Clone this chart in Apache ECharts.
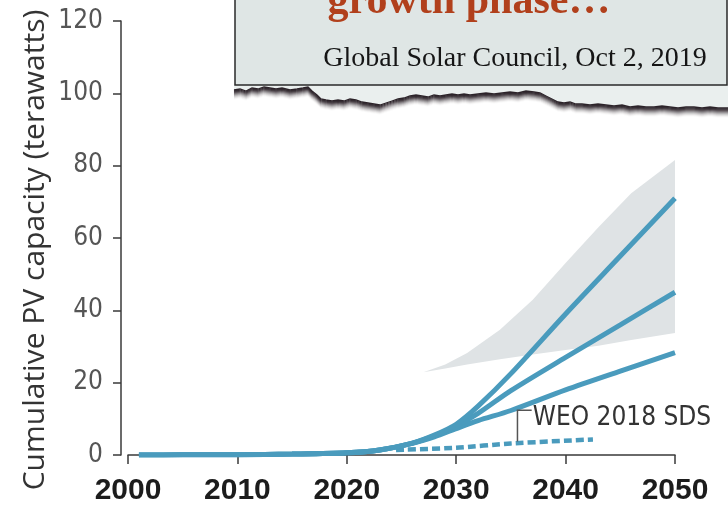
<!DOCTYPE html>
<html><head><meta charset="utf-8">
<script src="https://cdn.jsdelivr.net/npm/echarts@6.0.0/dist/echarts.min.js"></script>
<style>html,body{margin:0;padding:0;background:#fff}#c{width:728px;height:508px}</style>
</head><body><div id="c"></div>
<script>
// ---- data ----
const solidYears   = [2001, 2005, 2010, 2015, 2020, 2023, 2026, 2028, 2030, 2032, 2035, 2040, 2045, 2050];
const highScenario = [0, 0.05, 0.1, 0.25, 0.6, 1.4, 3.3, 5.5, 8.5, 13.5, 22.5, 39, 55, 71];
const midScenario  = [0, 0.05, 0.1, 0.25, 0.6, 1.4, 3.3, 5.3, 8.0, 11.5, 17.8, 27, 36, 45];
const lowScenario  = [0, 0.05, 0.1, 0.25, 0.6, 1.4, 3.2, 5.0, 7.3, 9.5, 12.3, 18, 23.2, 28.3];
const weoYears  = [2024.5, 2030, 2035, 2042.5];
const weoValues = [1.4, 2.0, 3.2, 4.3];
const bandYears = [2027, 2029, 2031, 2034, 2037, 2040, 2043, 2046, 2050];
const bandUpper = [22.9, 25, 28.2, 34.6, 42.9, 53.1, 63, 72.4, 81.6];
const bandLower = [22.9, 23.9, 25, 26.5, 27.8, 29, 30.2, 31.8, 33.7];
const xTicks = [2000, 2010, 2020, 2030, 2040, 2050];
const yTicks = [0, 20, 40, 60, 80, 100, 120];
const yTitle = 'Cumulative PV capacity (terawatts)';
const weoLabel = 'WEO 2018 SDS';
const headline = 'growth phase…';
const sourceText = 'Global Solar Council, Oct 2, 2019';

const zip = (xs, ys) => xs.map((x, i) => [x, ys[i]]);
const lineColor = '#4a9bbd';
const axisColor = '#3a3a3a';

const tornEdge = [[234,90],[240,89],[246,91],[252,88],[258,89],[264,87],[270,88],[276,89],[282,88],[290,90],[297,89],[303,88],[308,87],[312,91],[317,95],[321,99],[326,100],[332,101],[338,100],[344,101],[350,99],[356,100],[362,102],[368,103],[374,104],[380,105],[386,103],[392,101],[398,99],[404,98],[410,96],[416,95],[422,96],[428,97],[434,95],[440,96],[446,95],[452,94],[458,95],[464,94],[470,95],[478,94],[486,93],[494,94],[502,93],[510,92],[518,93],[526,91],[534,92],[540,93],[546,96],[552,99],[558,102],[564,103],[570,102],[576,104],[582,104],[590,105],[598,104],[606,105],[614,106],[622,105],[630,107],[638,106],[646,107],[654,107],[662,106],[670,107],[678,108],[686,107],[694,107],[702,108],[710,107],[718,108],[728,108]];

const chart = echarts.init(document.getElementById('c'), null, {renderer: 'canvas'});

const shadowAlphas = [1, 0.92, 0.8, 0.62, 0.45, 0.32, 0.2, 0.12, 0.06, 0.02];
const annotation = [];
annotation.push({type: 'polygon', z: 100, shape: {points: [[234,84]].concat(tornEdge).concat([[728,84]])}, style: {fill: '#eaefee'}});
shadowAlphas.forEach((a, k) => {
  annotation.push({type: 'polyline', z: 101, shape: {points: tornEdge.map(p => [p[0], p[1] + k])},
    style: {stroke: 'rgba(45,36,42,' + a + ')', lineWidth: 1.3, fill: null}});
});
annotation.push({type: 'rect', z: 102, shape: {x: 235, y: -10, width: 492, height: 95},
  style: {fill: '#dfe6e5', stroke: '#2a2a2a', lineWidth: 1.5}});
annotation.push({type: 'text', z: 103, x: 469, y: 2, style: {text: headline, fill: '#b1401c',
  font: 'bold 42px "Liberation Serif", serif', align: 'center', verticalAlign: 'middle'}});
annotation.push({type: 'text', z: 103, x: 515, y: 59, style: {text: sourceText, fill: '#151515',
  font: '28px "Liberation Serif", serif', align: 'center', verticalAlign: 'middle'}});

const option = {
  animation: false,
  backgroundColor: '#fff',
  grid: {left: 128, right: 53, top: 21, bottom: 53, containLabel: false},
  xAxis: {
    type: 'value', min: xTicks[0], max: xTicks[xTicks.length - 1], interval: 10,
    offset: 8,
    axisLine: {show: true, lineStyle: {color: axisColor, width: 1.5}},
    axisTick: {show: true, inside: false, length: 9, lineStyle: {color: axisColor, width: 1.5}},
    splitLine: {show: false},
    axisLabel: {formatter: v => String(v), margin: 13, color: '#1c1c1c',
      fontFamily: '"Liberation Sans", Arial, sans-serif', fontWeight: 'bold', fontSize: 30}
  },
  yAxis: {
    type: 'value', min: yTicks[0], max: yTicks[yTicks.length - 1], interval: 20,
    offset: 7,
    name: yTitle, nameLocation: 'middle', nameRotate: 90, nameGap: 71, nameMoveOverlap: false,
    nameTextStyle: {fontFamily: '"Open Sans", "Liberation Sans", sans-serif', fontSize: 30, color: '#333',
      padding: [0, 24, 0, 0]},
    axisLine: {show: true, lineStyle: {color: axisColor, width: 1.5}},
    axisTick: {show: true, inside: false, length: 8, lineStyle: {color: axisColor, width: 1.5}},
    splitLine: {show: false},
    axisLabel: {margin: 18, color: '#555',
      fontFamily: '"Liberation Sans Narrow", "DejaVu Sans Condensed", sans-serif', fontSize: 26}
  },
  series: [
    {name: 'range', type: 'custom', silent: true, z: 1, clip: false,
      data: [[bandYears[0], bandUpper[0]]],
      renderItem: (params, api) => {
        const top = bandYears.map((x, i) => api.coord([x, bandUpper[i]]));
        const bottom = bandYears.map((x, i) => api.coord([x, bandLower[i]])).reverse();
        return {type: 'polygon', shape: {points: top.concat(bottom)}, style: {fill: '#dfe3e5'}};
      }},
    {name: 'WEO 2018 SDS', type: 'line', smooth: 0.2, symbol: 'none', data: zip(weoYears, weoValues),
      lineStyle: {color: lineColor, width: 4.5, type: [8, 4]}, z: 3},
    {name: 'low', type: 'line', smooth: 0.3, symbol: 'none', data: zip(solidYears, lowScenario),
      lineStyle: {color: lineColor, width: 5}, z: 4},
    {name: 'mid', type: 'line', smooth: 0.3, symbol: 'none', data: zip(solidYears, midScenario),
      lineStyle: {color: lineColor, width: 5}, z: 4},
    {name: 'high', type: 'line', smooth: 0.3, symbol: 'none', data: zip(solidYears, highScenario),
      lineStyle: {color: lineColor, width: 5}, z: 4}
  ],
  graphic: annotation
};
chart.setOption(option);

// label bracket for the WEO line, positioned through the chart's scales
const pBottom = chart.convertToPixel({gridIndex: 0}, [2035.6, 3.7]);
const pTop = chart.convertToPixel({gridIndex: 0}, [2035.6, 12.4]);
const pRight = chart.convertToPixel({gridIndex: 0}, [2036.9, 12.4]);
const pText = chart.convertToPixel({gridIndex: 0}, [2037.0, 10.2]);
chart.setOption({graphic: annotation.concat([
  {type: 'polyline', z: 50, shape: {points: [pBottom, pTop, pRight]},
    style: {stroke: '#555', lineWidth: 1.5, fill: null}},
  {type: 'text', z: 50, x: pText[0], y: pText[1], style: {text: weoLabel, fill: '#333',
    font: '26px "Liberation Sans Narrow", "DejaVu Sans Condensed", sans-serif', align: 'left', verticalAlign: 'middle'}}
])});
</script>
</body></html>
